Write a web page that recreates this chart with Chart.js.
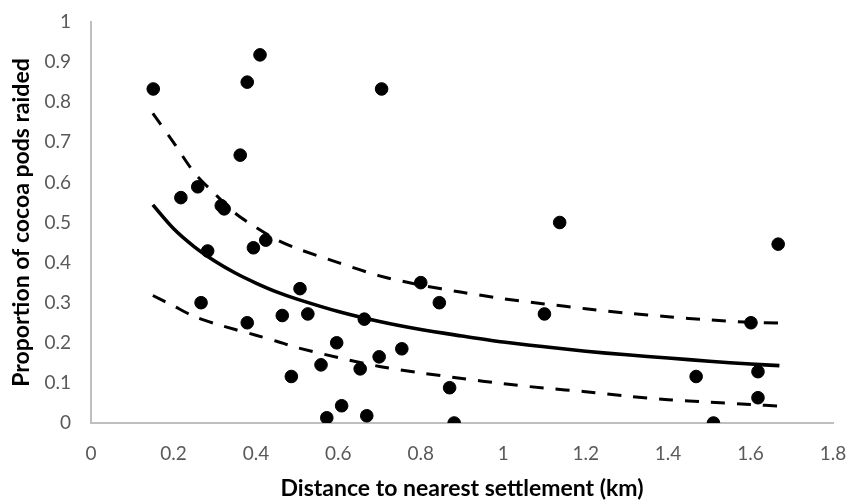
<!DOCTYPE html>
<html>
<head>
<meta charset="utf-8">
<script src="https://cdn.jsdelivr.net/npm/chart.js@4/dist/chart.umd.min.js"></script>
<style>
  html, body { margin: 0; padding: 0; background: #fff; }
  #wrap { width: 850px; height: 502px; }
</style>
</head>
<body>
<div id="wrap"><canvas id="raidChart" width="850" height="502"></canvas></div>
<script>
// observed farms: distance (km) and proportion of pods raided
const distKm = [0.151, 0.218, 0.259, 0.267, 0.283, 0.316, 0.323, 0.362, 0.379, 0.379, 0.394, 0.410, 0.424,
    0.464, 0.486, 0.507, 0.526, 0.558, 0.572, 0.596, 0.608, 0.653, 0.663, 0.669, 0.699, 0.705, 0.754,
    0.800, 0.845, 0.870, 0.881, 1.100, 1.137, 1.468, 1.510, 1.601, 1.618, 1.618, 1.667];
const propRaided = [0.833, 0.562, 0.589, 0.300, 0.429, 0.542, 0.534, 0.668, 0.850, 0.250, 0.437, 0.918, 0.456,
    0.268, 0.116, 0.335, 0.272, 0.145, 0.013, 0.200, 0.043, 0.135, 0.259, 0.018, 0.165, 0.833, 0.185,
    0.350, 0.300, 0.088, 0.000, 0.272, 0.500, 0.116, 0.000, 0.250, 0.128, 0.063, 0.446];

// fitted curve and its bounds
const fitX = [0.15, 0.2, 0.25, 0.3, 0.35, 0.4, 0.45, 0.5, 0.6, 0.7, 0.8, 0.9, 1.0, 1.1, 1.2, 1.3, 1.4, 1.5, 1.6, 1.67];
const fitMid = [0.544, 0.485, 0.440, 0.404, 0.374, 0.349, 0.327, 0.309, 0.278, 0.253, 0.233, 0.217, 0.202, 0.190,
    0.179, 0.170, 0.162, 0.154, 0.147, 0.143];
const fitUpper = [0.772, 0.700, 0.625, 0.572, 0.523, 0.488, 0.457, 0.435, 0.400, 0.367, 0.344, 0.326, 0.310, 0.297,
    0.285, 0.274, 0.265, 0.257, 0.251, 0.249];
const fitLower = [0.318, 0.292, 0.266, 0.248, 0.233, 0.219, 0.204, 0.188, 0.163, 0.141, 0.125, 0.111, 0.098, 0.087,
    0.078, 0.067, 0.058, 0.052, 0.046, 0.042];

const xTicks = ['0', '0.2', '0.4', '0.6', '0.8', '1', '1.2', '1.4', '1.6', '1.8'];
const yTicks = ['0', '0.1', '0.2', '0.3', '0.4', '0.5', '0.6', '0.7', '0.8', '0.9', '1'];

const FONT = "Lato, 'Open Sans', sans-serif";

const pairs = (xs, ys) => xs.map((x, i) => ({ x: x, y: ys[i] }));

const curve = (label, ys, width, dash) => ({
    type: 'line',
    label: label,
    data: pairs(fitX, ys),
    borderColor: '#000',
    borderWidth: width,
    borderDash: dash,
    pointRadius: 0,
    tension: 0.3,
    fill: false,
});

new Chart(document.getElementById('raidChart'), {
    type: 'scatter',
    data: {
        datasets: [
            curve('Fit', fitMid, 3.6, []),
            curve('Upper', fitUpper, 3, [14, 12]),
            curve('Lower', fitLower, 3, [14, 12]),
            {
                label: 'Farms',
                data: pairs(distKm, propRaided),
                backgroundColor: '#000',
                borderColor: '#000',
                pointRadius: 6.3,
                pointHoverRadius: 6.3,
            },
        ],
    },
    options: {
        responsive: false,
        animation: false,
        layout: { padding: 0 },
        plugins: { legend: { display: false }, tooltip: { enabled: false } },
        scales: {
            x: {
                type: 'linear',
                min: 0,
                max: 1.8,
                grid: { display: false, drawTicks: false },
                border: { color: '#bfbfbf', width: 2 },
                ticks: {
                    stepSize: 0.2,
                    padding: 19,
                    color: '#595959',
                    font: { size: 19, family: FONT },
                    callback: (v, i) => xTicks[i],
                },
                title: {
                    display: true,
                    text: 'Distance to nearest settlement (km)',
                    color: '#000',
                    font: { size: 23, weight: 'bold', family: FONT },
                    padding: { top: 0, bottom: 0 },
                },
                afterFit: (s) => {
                    s.height = 79;
                    s.paddingLeft = 0;
                    s.paddingRight = 17;
                },
            },
            y: {
                type: 'linear',
                min: 0,
                max: 1,
                grid: { display: false, drawTicks: false },
                border: { color: '#bfbfbf', width: 2 },
                ticks: {
                    stepSize: 0.1,
                    padding: 20,
                    color: '#595959',
                    font: { size: 19, family: FONT },
                    callback: (v, i) => yTicks[i],
                },
                title: {
                    display: true,
                    text: 'Proportion of cocoa pods raided',
                    color: '#000',
                    font: { size: 23, weight: 'bold', family: FONT },
                    padding: { top: 8, bottom: 0 },
                },
                afterFit: (s) => {
                    s.width = 91;
                    s.paddingTop = 22;
                    s.paddingBottom = 0;
                },
            },
        },
    },
});
</script>
</body>
</html>
